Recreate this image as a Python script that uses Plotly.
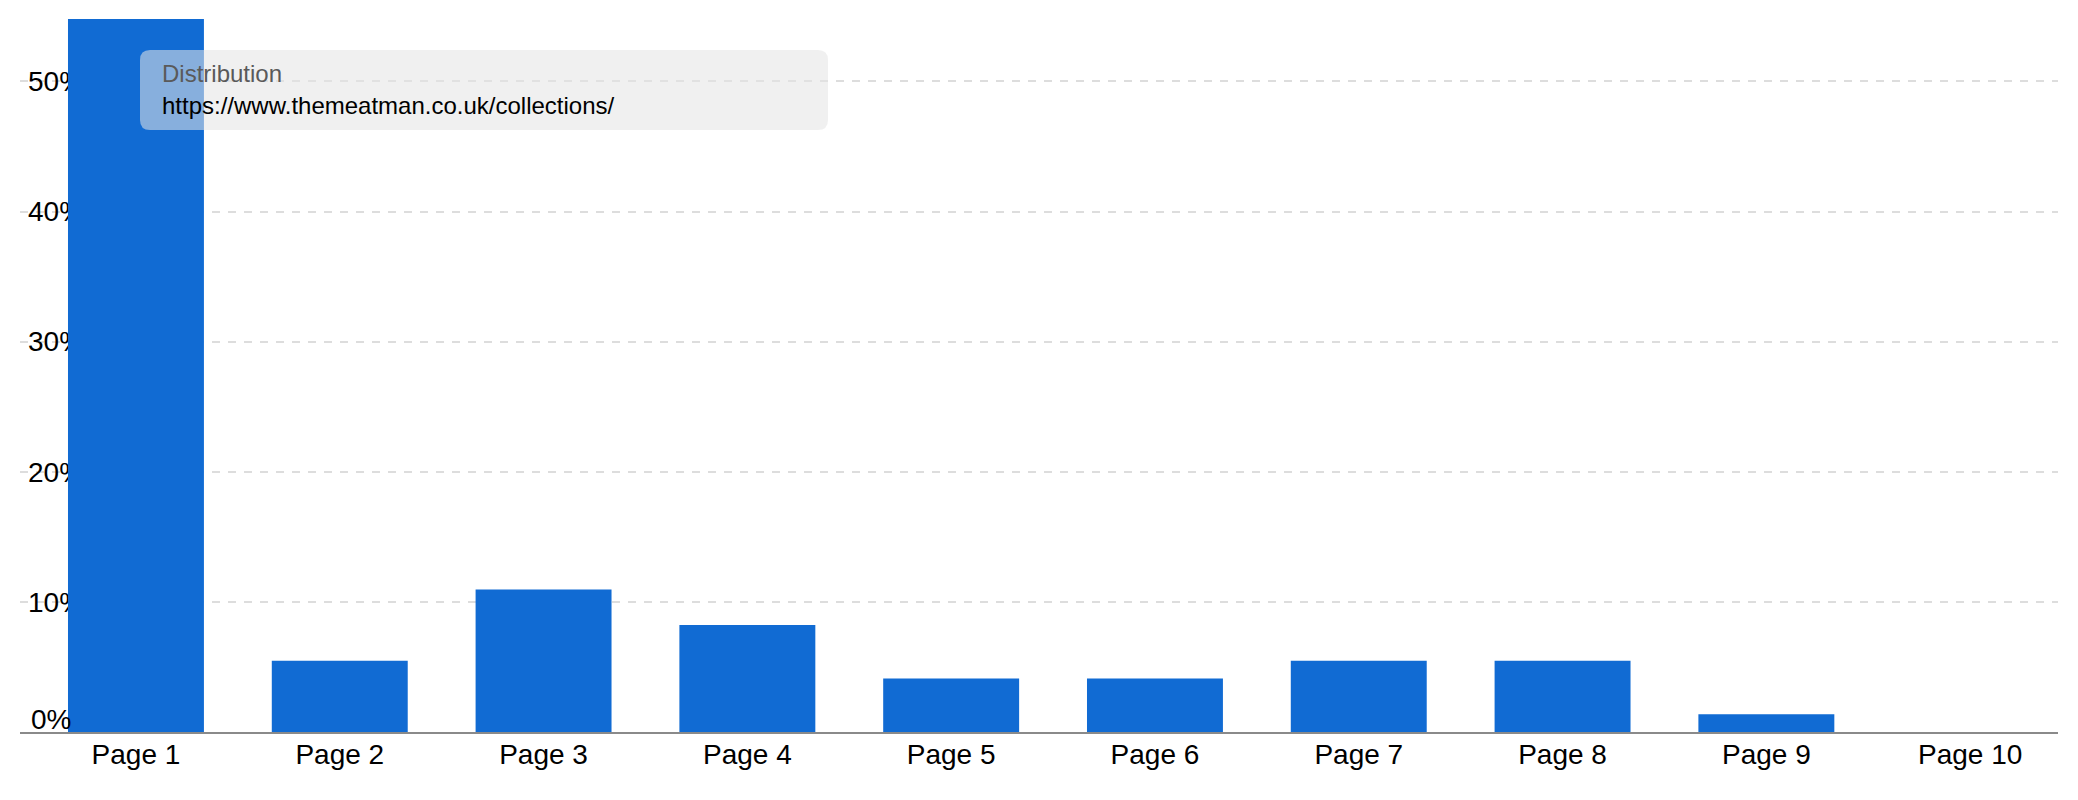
import plotly.graph_objects as go

# counts per results page, shown as share of all rankings
pages = [f"Page {i}" for i in range(1, 11)]
counts = [40, 4, 8, 6, 3, 3, 4, 4, 1, 0]
total = sum(counts)
share = [c / total * 100 for c in counts]

y_ticks = [0, 10, 20, 30, 40, 50]
y_labels = [f"{t}%" for t in y_ticks]

tip_title = "Distribution"
tip_url = "https://www.themeatman.co.uk/collections/"

W, H = 2078, 800
BODY = 8  # default page margin around the plot div
ML, MR, MT, MB = 12, 28, 11, 76
PW, PH = W - ML - MR, H - MT - MB


def px_x(x):
    return (x - BODY - ML) / PW


def px_y(y):
    return (H - MB - (y - BODY)) / PH


def rounded_box(x0, y0, x1, y1, r):
    # page-pixel box -> paper-coordinate svg path with rounded corners
    a, b = px_x(x0), px_x(x1)
    top, bot = px_y(y0), px_y(y1)
    rx, ry = r / PW, r / PH
    return (f"M{a + rx},{top} L{b - rx},{top} Q{b},{top} {b},{top - ry} "
            f"L{b},{bot + ry} Q{b},{bot} {b - rx},{bot} "
            f"L{a + rx},{bot} Q{a},{bot} {a},{bot + ry} "
            f"L{a},{top - ry} Q{a},{top} {a + rx},{top} Z")


fig = go.Figure(go.Bar(
    x=pages,
    y=share,
    marker=dict(color="#116bd3", line=dict(width=0)),
    hoverinfo="skip",
))

fig.update_layout(
    width=W, height=H,
    margin=dict(l=ML, r=MR, t=MT, b=MB),
    plot_bgcolor="white",
    paper_bgcolor="white",
    bargap=0.333,
    showlegend=False,
    font=dict(family="Arial, Liberation Sans, sans-serif", size=28, color="#000000"),
)

fig.update_xaxes(
    range=[-0.569, 9.431],
    showline=True, linecolor="#8a8a8a", linewidth=2,
    showgrid=False, ticks="",
    ticklabelstandoff=-4,
    tickfont=dict(size=28, color="#000000"),
)

# the bottom label sits just above the baseline, so it is placed on its own
fig.update_yaxes(
    range=[0, share[0]],
    tickvals=y_ticks, ticktext=[""] + y_labels[1:],
    ticklabelposition="inside",
    ticklabelstandoff=5,
    layer="below traces",
    showgrid=True, gridcolor="#dddddd", gridwidth=2, griddash="8px,8px",
    zeroline=False, showline=False, ticks="",
    tickfont=dict(size=28, color="#000000"),
)
fig.add_annotation(
    x=px_x(29), y=y_ticks[0], xref="paper", yref="y",
    xanchor="left", yanchor="bottom", yshift=-5, showarrow=False,
    text=y_labels[0], font=dict(size=28, color="#000000"),
)

fig.add_shape(
    type="path", xref="paper", yref="paper",
    path=rounded_box(140, 50, 828, 130, 10),
    fillcolor="rgba(228,228,228,0.56)",
    line=dict(width=0),
    layer="above",
)

fig.add_annotation(
    x=px_x(160), y=px_y(74), xref="paper", yref="paper",
    xanchor="left", yanchor="middle", showarrow=False,
    text=tip_title, font=dict(size=24, color="#5a5a5a"),
)
fig.add_annotation(
    x=px_x(160), y=px_y(105), xref="paper", yref="paper",
    xanchor="left", yanchor="middle", showarrow=False,
    text=tip_url, font=dict(size=24, color="#000000"),
)

fig.write_html("out.html")
